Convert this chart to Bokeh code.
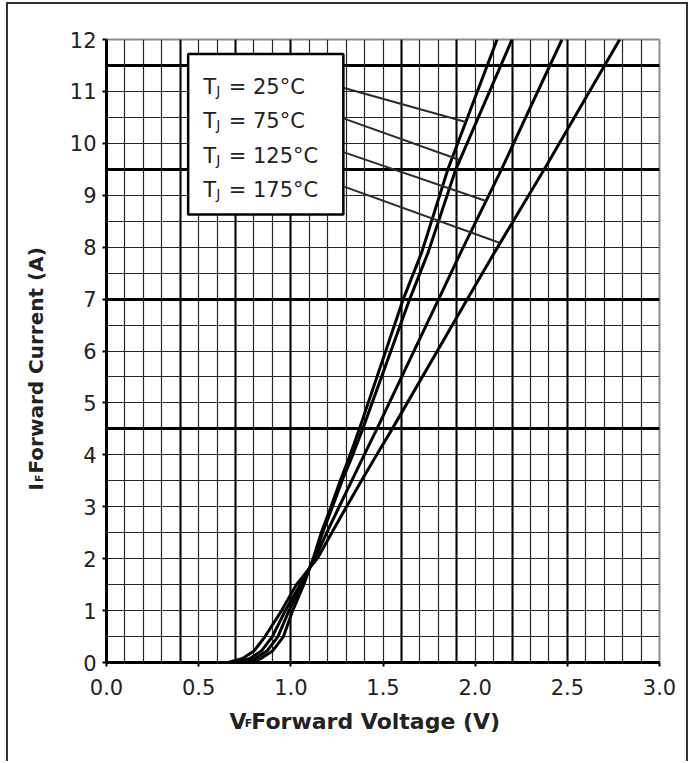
import numpy as np
from bokeh.plotting import figure
from bokeh.layouts import row, column
from bokeh.models import (Range1d, SingleIntervalTicker, FixedTicker, Grid,
                          PrintfTickFormatter, ColumnDataSource)
from bokeh.core.properties import value
from bokeh.embed import file_html
from bokeh.resources import INLINE

# ---------------- data ----------------
current_A = [0, 0, 0.08, 0.22, 0.5, 1.0, 1.5, 2.0, 2.5, 3.0, 3.5, 4.0, 4.5, 7.0, 7.9, 9.5, 12.0]
v_25C  = [0, 0.78, 0.84, 0.90, 0.96, 1.01, 1.07, 1.121, 1.165, 1.218, 1.268, 1.322, 1.372, 1.610, 1.71, 1.852, 2.119]
v_75C  = [0, 0.74, 0.81, 0.87, 0.93, 0.99, 1.06, 1.125, 1.172, 1.226, 1.278, 1.336, 1.39, 1.645, 1.745, 1.895, 2.200]
v_125C = [0, 0.70, 0.78, 0.84, 0.90, 0.97, 1.05, 1.130, 1.195, 1.262, 1.330, 1.398, 1.467, 1.802, 1.922, 2.143, 2.471]
v_175C = [0, 0.66, 0.74, 0.80, 0.86, 0.95, 1.03, 1.143, 1.222, 1.302, 1.383, 1.466, 1.550, 1.958, 2.105, 2.375, 2.784]
series_V = [v_25C, v_75C, v_125C, v_175C]
legend_temps = ["25°C", "75°C", "125°C", "175°C"]
legend_row_I = [10.95, 10.29, 9.62, 8.95]      # text baselines of the legend rows
leader_from_I = [11.07, 10.48, 9.83, 9.17]     # leader start (box edge)
leader_to_I = [10.41, 9.68, 8.89, 8.08]        # leader end (on the curve)
x_ticks_step = 0.5
y_ticks_step = 1
x_title = ["V", "F", "Forward Voltage (V)"]
y_title = ["I", "F", "Forward Current (A)"]

INK = "#222222"
FONT = value("DejaVu Sans")
BL = 0.35   # baseline correction, in em, for text_baseline="alphabetic"

# ---------------- layout sizes (pixels) ----------------
YT_W = 48            # y-title strip
MAIN_W, MAIN_H = 630, 702
XT_H = 55            # x-title strip
TOTAL_H = MAIN_H + XT_H

# ---------------- main chart ----------------
p = figure(width=MAIN_W, height=MAIN_H, output_backend="svg", toolbar_location=None,
           title=None, x_range=Range1d(0, 3), y_range=Range1d(0, 12),
           min_border_left=50, min_border_right=27, min_border_top=35, min_border_bottom=44)
p.background_fill_color = "white"
p.border_fill_color = "white"
p.outline_line_color = "#8c8c8c"
p.outline_line_width = 2

for ax in (p.xaxis[0], p.yaxis[0]):
    ax.axis_line_color = "black"
    ax.axis_line_width = 3
    ax.major_tick_line_color = "black"
    ax.major_tick_line_width = 2
    ax.major_tick_out = 4
    ax.major_tick_in = 0
    ax.minor_tick_line_color = None
    ax.major_label_text_font = "DejaVu Sans"
    ax.major_label_text_font_size = "21px"
    ax.major_label_text_color = INK

p.xaxis.ticker = SingleIntervalTicker(interval=x_ticks_step, num_minor_ticks=0)
p.xaxis.formatter = PrintfTickFormatter(format="%.1f")
p.xaxis.major_label_standoff = 12
p.yaxis.ticker = SingleIntervalTicker(interval=y_ticks_step, num_minor_ticks=0)
p.yaxis.major_label_standoff = 6

# fine grid
p.xgrid.ticker = SingleIntervalTicker(interval=0.1, num_minor_ticks=0)
p.ygrid.ticker = SingleIntervalTicker(interval=0.5, num_minor_ticks=0)
for g in (p.xgrid[0], p.ygrid[0]):
    g.grid_line_color = "#262626"
    g.grid_line_width = 1.2

# heavier grid lines, as they appear in the reference
p.add_layout(Grid(dimension=1, ticker=FixedTicker(ticks=[4.5, 7, 9.5, 11.5]),
                  grid_line_color="black", grid_line_width=3), "center")
p.add_layout(Grid(dimension=0, ticker=FixedTicker(ticks=[0.4, 0.7, 1.0, 1.6, 1.9, 2.2, 2.5]),
                  grid_line_color="black", grid_line_width=2), "center")

# curves
for v in series_V:
    p.line(v, current_A, line_color="black", line_width=3)

# legend box (a glyph so that the text can sit above it)
box = dict(left=[0.443], right=[1.285], top=[11.72], bottom=[8.63])
p.quad(**box, fill_color="white", line_color="black", line_width=2.5)

# leader lines from the box to the curves
x_end = [float(np.interp(ti, current_A[1:], v[1:])) for ti, v in zip(leader_to_I, series_V)]
p.segment(x0=[box["right"][0]] * 4, y0=leader_from_I, x1=x_end, y1=leader_to_I,
          line_color="#2b2b2b", line_width=2)

# legend texts: "T", subscript "J", then "= xx°C"
src = ColumnDataSource(dict(x=[0.5246] * 4, y=legend_row_I,
                            t=["T"] * 4, j=["J"] * 4,
                            rest=["= " + s for s in legend_temps]))
p.text(x="x", y="y", text="t", source=src, text_font=FONT,
       text_font_size="21px", text_color=INK, text_baseline="alphabetic",
       y_offset=-BL * 21)
p.text(x="x", y="y", text="j", source=src, text_font=FONT,
       text_font_size="14px", text_color=INK, text_baseline="alphabetic",
       x_offset=13, y_offset=1.5 - BL * 14)
p.text(x="x", y="y", text="rest", source=src, text_font=FONT,
       text_font_size="21px", text_color=INK, text_baseline="alphabetic",
       x_offset=25.5, y_offset=-BL * 21)


def strip(w, h):
    f = figure(width=w, height=h, output_backend="svg", toolbar_location=None,
               title=None, x_range=Range1d(0, w), y_range=Range1d(0, h),
               x_axis_type=None, y_axis_type=None, min_border=0,
               min_border_left=0, min_border_right=0, min_border_top=0, min_border_bottom=0)
    f.grid.visible = False
    f.outline_line_color = None
    f.background_fill_color = "white"
    f.border_fill_color = "white"
    return f


# x-axis title strip (pixel coordinates, y measured from the strip bottom)
XS = -44  # horizontal correction observed for this strip
xt = strip(MAIN_W, XT_H)
xt.text(x=[184 + XS], y=[XT_H - 23], text=[x_title[0]], text_font=FONT, text_font_style="bold",
        text_font_size="22px", text_color=INK, text_baseline="alphabetic", y_offset=-BL * 22)
xt.text(x=[201.5 + XS], y=[XT_H - 21], text=[x_title[1]], text_font=FONT, text_font_style="bold",
        text_font_size="11px", text_color=INK, text_baseline="alphabetic", y_offset=-BL * 11)
xt.text(x=[209 + XS], y=[XT_H - 23], text=[x_title[2]], text_font=FONT, text_font_style="bold",
        text_font_size="22px", text_color=INK, text_baseline="alphabetic", y_offset=-BL * 22)

# y-axis title strip (rotated text, reading upwards); baseline correction goes along x
yt = strip(YT_W, TOTAL_H)
yt.text(x=[34 - BL * 20], y=[TOTAL_H - 486], text=[y_title[0]], angle=np.pi / 2, text_font=FONT,
        text_font_style="bold", text_font_size="20px", text_color=INK,
        text_baseline="alphabetic")
yt.text(x=[35 - BL * 11], y=[TOTAL_H - 477.5], text=[y_title[1]], angle=np.pi / 2, text_font=FONT,
        text_font_style="bold", text_font_size="11px", text_color=INK,
        text_baseline="alphabetic")
yt.text(x=[34 - BL * 20], y=[TOTAL_H - 469], text=[y_title[2]], angle=np.pi / 2, text_font=FONT,
        text_font_style="bold", text_font_size="20px", text_color=INK,
        text_baseline="alphabetic")

layout = row(yt, column(p, xt, spacing=0), spacing=0)
layout.styles = {"margin-left": "6px", "margin-top": "2px",
                 "border-left": "2px solid #333", "border-top": "2px solid #333",
                 "border-right": "2px solid #333"}

open("out.html", "w").write(file_html(layout, INLINE))
